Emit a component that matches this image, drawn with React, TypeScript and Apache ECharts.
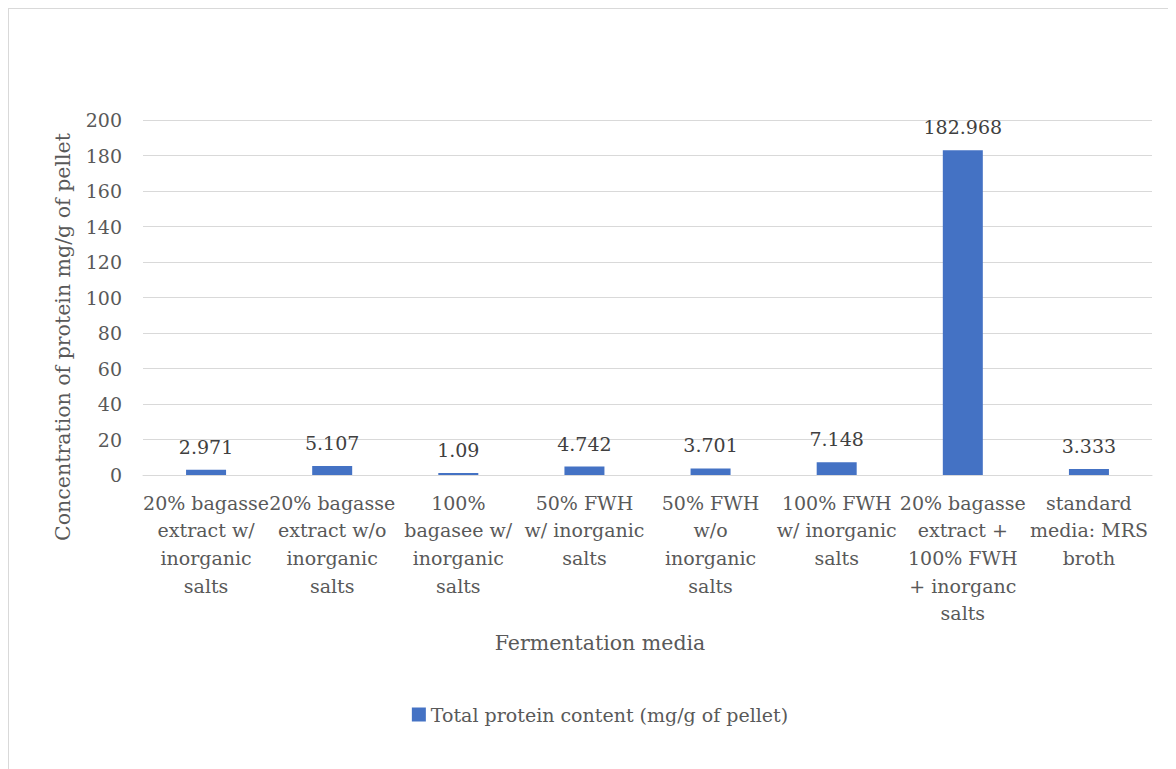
import React, { useEffect, useRef } from "react";
import * as echarts from "echarts";

const categories: string[] = [
  "20% bagasse\nextract w/\ninorganic\nsalts",
  "20% bagasse\nextract w/o\ninorganic\nsalts",
  "100%\nbagasee w/\ninorganic\nsalts",
  "50% FWH\nw/ inorganic\nsalts",
  "50% FWH\nw/o\ninorganic\nsalts",
  "100% FWH\nw/ inorganic\nsalts",
  "20% bagasse\nextract +\n100% FWH\n+ inorganc\nsalts",
  "standard\nmedia: MRS\nbroth",
];

const proteinValues: number[] = [2.971, 5.107, 1.09, 4.742, 3.701, 7.148, 182.968, 3.333];

const seriesName = "Total protein content (mg/g of pellet)";
const xAxisTitle = "Fermentation media";
const yAxisTitle = "Concentration of protein mg/g of pellet";

const FONT = "DejaVu Serif";

export default function App() {
  const ref = useRef<HTMLDivElement>(null);

  useEffect(() => {
    if (!ref.current) return;
    const chart = echarts.init(ref.current, undefined, { renderer: "svg" });
    chart.setOption({
      animation: false,
      backgroundColor: "#ffffff",
      textStyle: { fontFamily: FONT },
      grid: { left: 134, top: 111, width: 1009, height: 355, containLabel: false },
      legend: {
        show: true,
        left: "center",
        top: 691,
        itemWidth: 14,
        itemHeight: 14,
        icon: "rect",
        textStyle: { fontFamily: FONT, fontSize: 19, color: "#595959" },
        data: [seriesName],
      },
      xAxis: {
        type: "category",
        data: categories,
        axisLine: { show: true, lineStyle: { color: "#d9d9d9", width: 1 } },
        axisTick: { show: false },
        axisLabel: {
          interval: 0,
          margin: 14,
          fontFamily: FONT,
          fontSize: 19,
          lineHeight: 27.6,
          color: "#595959",
          align: "center",
        },
      },
      yAxis: {
        type: "value",
        min: 0,
        max: 200,
        interval: 20,
        axisLine: { show: false },
        axisTick: { show: false },
        splitLine: { show: true, lineStyle: { color: "#d9d9d9", width: 1 } },
        axisLabel: { margin: 21, fontFamily: FONT, fontSize: 19, color: "#595959" },
      },
      graphic: [
        {
          type: "text",
          x: 54,
          y: 328,
          rotation: Math.PI / 2,
          style: {
            text: yAxisTitle,
            fontFamily: FONT,
            fontSize: 20.5,
            fill: "#595959",
            textAlign: "center",
            textVerticalAlign: "middle",
          },
        },
        {
          type: "text",
          x: 591,
          y: 634,
          style: {
            text: xAxisTitle,
            fontFamily: FONT,
            fontSize: 20.5,
            fill: "#595959",
            textAlign: "center",
            textVerticalAlign: "middle",
          },
        },
      ],
      series: [
        {
          name: seriesName,
          type: "bar",
          data: proteinValues,
          barWidth: 40,
          itemStyle: { color: "#4472C4" },
          label: {
            show: true,
            position: "top",
            distance: 11,
            fontFamily: FONT,
            fontSize: 19,
            lineHeight: 24,
            color: "#404040",
            formatter: (p: any) => String(p.value),
          },
        },
      ],
    });
    return () => chart.dispose();
  }, []);

  return (
    <div style={{ border: "1px solid #d9d9d9", width: 1182, height: 790, background: "#fff" }}>
      <div ref={ref} style={{ width: 1182, height: 790 }} />
    </div>
  );
}
